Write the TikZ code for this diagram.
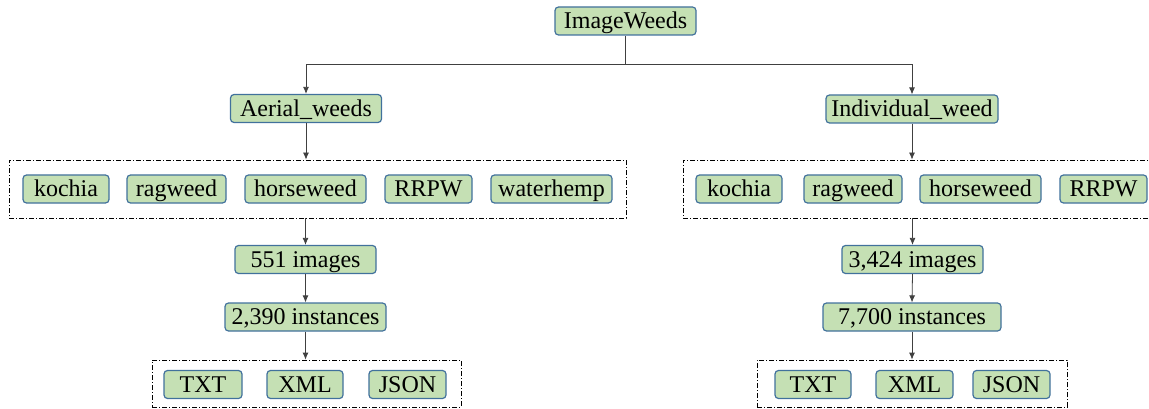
\documentclass[tikz,border=0pt]{standalone}
\usepackage{fontspec}
\setmainfont{Liberation Serif}
\usetikzlibrary{arrows.meta}

\definecolor{boxgreen}{HTML}{C5E0B4}
\definecolor{boxblue}{HTML}{41719C}

\begin{document}
\begin{tikzpicture}[x=1pt,y=-1pt,
    box/.style={draw=boxblue, fill=boxgreen, rounded corners=3.5pt, line width=1.2pt,
        minimum height=28pt, inner sep=0pt, text height=17pt, text depth=1.5pt,
        font=\fontsize{24}{24}\selectfont},
    group/.style={draw, dash pattern=on 5pt off 2pt on 1pt off 2pt, line width=0.8pt, inner sep=0pt},
    arr/.style={-{Latex[length=7pt,width=6pt]}, line width=0.8pt, draw=black!75}]

                \useasboundingbox (0,0) rectangle (1149,409);

                \node[box, minimum width=141pt] (root) at (625.5,21) {ImageWeeds};

                \node[box, minimum width=151pt] (aerial) at (306,108.5) {Aerial\_weeds};
                \node[box, minimum width=172pt] (indiv) at (912,109) {Individual\_weed};

                % weed species
                \node[group, minimum width=617pt, minimum height=58pt] (lspec) at (317.5,189) {};
                \node[box, minimum width=86pt] (lkochia) at (66,189) {kochia};
                \node[box, minimum width=99pt] (lragweed) at (176.5,189) {ragweed};
                \node[box, minimum width=121pt] (lhorse) at (305.5,189) {horseweed};
                \node[box, minimum width=87pt] (lrrpw) at (428.5,189) {RRPW};
                \node[box, minimum width=121pt] (lwater) at (551.5,189) {waterhemp};

                \node[group, minimum width=477pt, minimum height=58pt] (rspec) at (921.5,189) {};
                \node[box, minimum width=86pt] (rkochia) at (739,189) {kochia};
                \node[box, minimum width=98pt] (rragweed) at (853,189) {ragweed};
                \node[box, minimum width=121pt] (rhorse) at (980.5,189) {horseweed};
                \node[box, minimum width=87pt] (rrrpw) at (1103.5,189) {RRPW};

                % counts
                \node[box, minimum width=141pt] (limg) at (305.5,259.5) {551 images};
                \node[box, minimum width=161pt] (linst) at (305.5,317) {2,390 instances};
                \node[box, minimum width=141pt] (rimg) at (912.5,259.5) {3,424 images};
                \node[box, minimum width=178pt] (rinst) at (912,317) {7,700 instances};

                % label formats
                \node[group, minimum width=309pt, minimum height=47pt] (lfmt) at (306.5,383.5) {};
                \node[box, minimum width=78pt] (ltxt) at (203,384.5) {TXT};
                \node[box, minimum width=76pt] (lxml) at (305,384.5) {XML};
                \node[box, minimum width=77pt] (ljson) at (407.5,384.5) {JSON};

                \node[group, minimum width=310pt, minimum height=47pt] (rfmt) at (912,383.5) {};
                \node[box, minimum width=76pt] (rtxt) at (813,384.5) {TXT};
                \node[box, minimum width=77pt] (rxml) at (914.5,384.5) {XML};
                \node[box, minimum width=77pt] (rjson) at (1011.5,384.5) {JSON};

                % connectors
                \draw[line width=0.8pt, draw=black!75] (root.south) -- ++(0,29) coordinate (split);
                \draw[arr] (split) -| (aerial.north);
                \draw[arr] (split) -| (indiv.north);

                \draw[arr] (aerial.south) -- (aerial.south |- lspec.north);
                \draw[arr] (lspec.south -| limg) -- (limg.north);
                \draw[arr] (limg.south) -- (linst.north);
                \draw[arr] (linst.south) -- (linst.south |- lfmt.north);

                \draw[arr] (indiv.south) -- (indiv.south |- rspec.north);
                \draw[arr] (rspec.south -| rimg) -- (rimg.north);
                \draw[arr] (rimg.south) -- (rinst.north);
                \draw[arr] (rinst.south) -- (rinst.south |- rfmt.north);
            \end{tikzpicture}
\end{document}
